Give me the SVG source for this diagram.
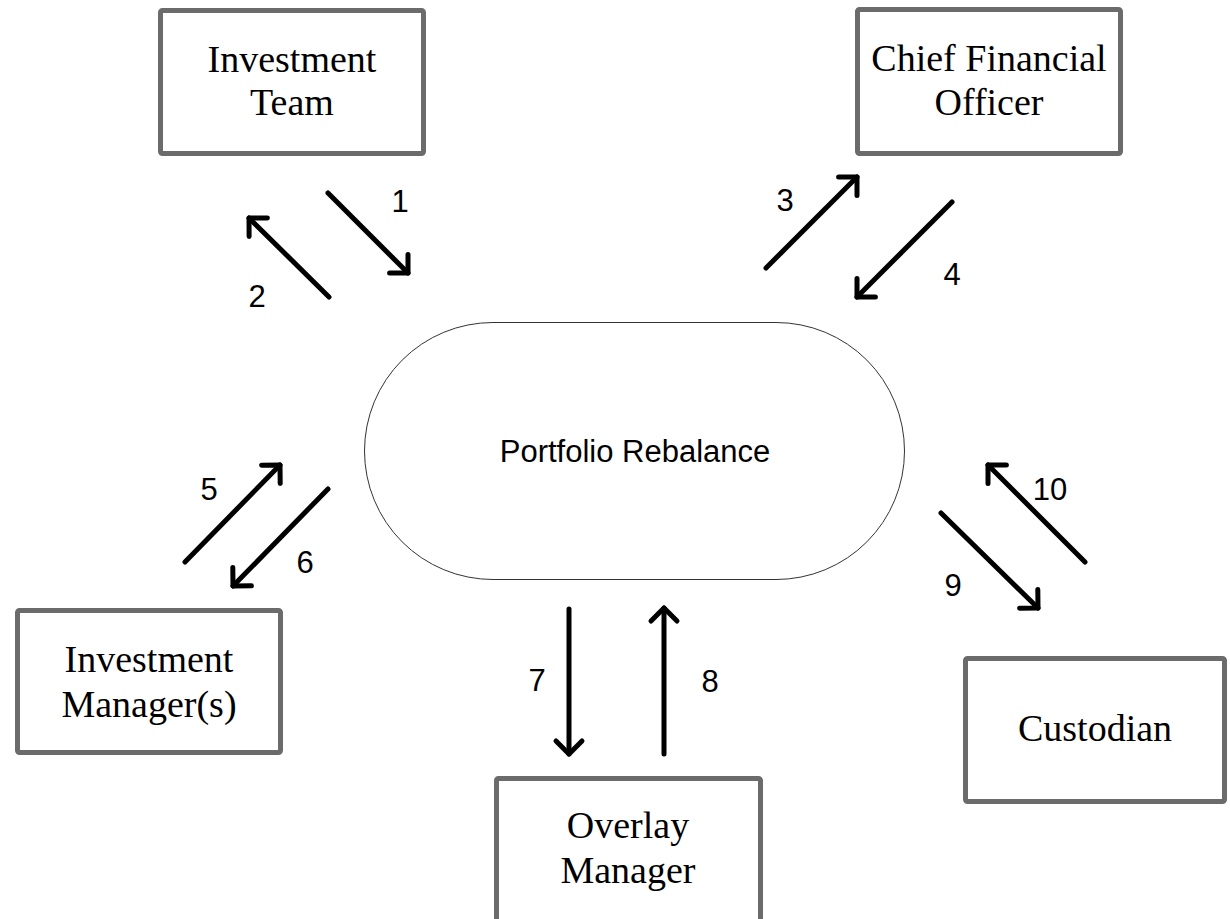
<svg xmlns="http://www.w3.org/2000/svg" width="1230" height="919" viewBox="0 0 1230 919">
<style>
.box{fill:#fff;stroke:#6b6b6b;stroke-width:5}
.lbl{font-family:"Liberation Serif","Times New Roman",serif;font-size:38px;fill:#000;text-anchor:middle}
.num{font-family:"Liberation Sans",Arial,sans-serif;font-size:31px;fill:#000;text-anchor:middle}
.title{font-family:"Liberation Sans",Arial,sans-serif;font-size:31px;fill:#000;text-anchor:middle}
.arr{fill:none;stroke:#000;stroke-width:5;stroke-linecap:round;marker-end:url(#head)}
</style>
<defs>
<marker id="head" markerUnits="userSpaceOnUse" viewBox="-20 -20 40 40" markerWidth="40" markerHeight="40" refX="0" refY="0" orient="auto" overflow="visible">
<path d="M-13,-13 L0,0 L-13,13" fill="none" stroke="#000" stroke-width="5" stroke-linecap="round" stroke-linejoin="round"/>
</marker>
</defs>
<rect width="1230" height="919" fill="#fff"/>
<g id="investment-team">
<rect class="box" x="160.5" y="10.5" width="263" height="143" rx="2"/>
<text class="lbl" x="292" y="72">Investment</text>
<text class="lbl" x="292" y="115">Team</text>
</g>
<g id="cfo">
<rect class="box" x="857.5" y="9.5" width="263" height="144" rx="2"/>
<text class="lbl" x="989" y="71">Chief Financial</text>
<text class="lbl" x="989" y="115">Officer</text>
</g>
<g id="portfolio-rebalance">
<rect x="364.5" y="322.5" width="540" height="257" rx="128.5" ry="128.5" fill="#fff" stroke="#333" stroke-width="1"/>
<text class="title" x="635" y="462">Portfolio Rebalance</text>
</g>
<g id="investment-managers">
<rect class="box" x="17.5" y="610.5" width="263" height="142" rx="2"/>
<text class="lbl" x="149" y="672">Investment</text>
<text class="lbl" x="149" y="717">Manager(s)</text>
</g>
<g id="overlay-manager">
<rect class="box" x="496.5" y="778.5" width="264" height="200" rx="2"/>
<text class="lbl" x="628" y="838">Overlay</text>
<text class="lbl" x="628" y="883">Manager</text>
</g>
<g id="custodian">
<rect class="box" x="965.5" y="658.5" width="259" height="143" rx="2"/>
<text class="lbl" x="1095" y="741">Custodian</text>
</g>
<g id="connectors">
<path class="arr" d="M328,193 L408,273"/>
<path class="arr" d="M329,297 L249,218"/>
<path class="arr" d="M766,268 L857,177"/>
<path class="arr" d="M952,202 L857,297"/>
<path class="arr" d="M185,562 L280,465"/>
<path class="arr" d="M328,489 L233,586"/>
<path class="arr" d="M569,609 L569,754"/>
<path class="arr" d="M664,754 L664,608"/>
<path class="arr" d="M941,513 L1038,608"/>
<path class="arr" d="M1085,562 L988,465"/>
<text class="num" x="400" y="212">1</text>
<text class="num" x="257" y="307">2</text>
<text class="num" x="785" y="211">3</text>
<text class="num" x="952" y="285">4</text>
<text class="num" x="209" y="500">5</text>
<text class="num" x="305" y="573">6</text>
<text class="num" x="537" y="691">7</text>
<text class="num" x="710" y="692">8</text>
<text class="num" x="953" y="596">9</text>
<text class="num" x="1050" y="500">10</text>
</g>
</svg>
